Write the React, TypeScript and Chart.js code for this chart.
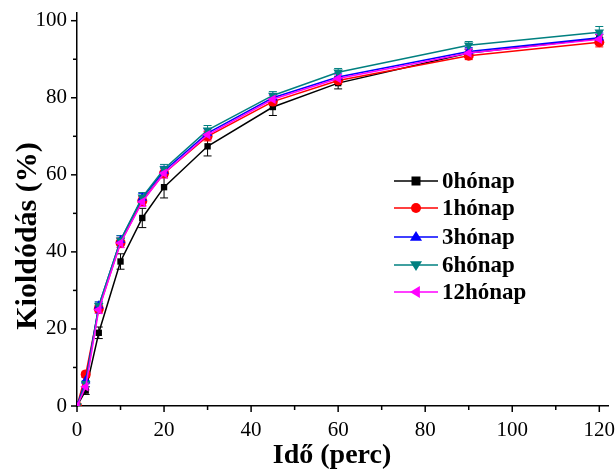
import React, { useEffect, useRef } from "react";
import { Chart, registerables } from "chart.js";

Chart.register(...registerables);

const times = [0, 2, 5, 10, 15, 20, 30, 45, 60, 90, 120];
const seriesNames = ["0hónap", "1hónap", "3hónap", "6hónap", "12hónap"];
const m0 = [0, 4, 19, 37.5, 48.8, 56.8, 67.4, 77.6, 83.8, 91.6, 95.4];
const m1 = [0, 8.2, 25.2, 42.4, 53.2, 60.4, 70.0, 79.0, 84.5, 90.9, 94.4];
const m3 = [0, 6.6, 26.0, 43.0, 54.0, 61.0, 70.8, 80.0, 85.4, 92.0, 95.6];
const m6 = [0, 5.8, 26.0, 43.0, 54.2, 61.5, 71.6, 80.6, 86.6, 93.6, 97.0];
const m12 = [0, 5.0, 25.0, 42.3, 53.0, 60.4, 70.4, 79.6, 85.0, 91.6, 95.2];
const e0 = [0, 1, 1.5, 2, 2.5, 2.8, 2.5, 2.2, 1.5, 1, 1];
const e1 = [0, 0.8, 1, 1.2, 1.2, 1.2, 1.2, 1, 1, 1, 1.2];
const e3 = [0, 0.8, 1, 1.2, 1.2, 1.2, 1.2, 1, 1, 1, 1.2];
const e6 = [0, 0.8, 1, 1.2, 1.2, 1.2, 1.2, 1, 1, 1, 1.5];
const e12 = [0, 0.8, 1, 1.2, 1.2, 1.2, 1.2, 1, 1, 1, 1.2];
const xTickLabels = [0, 20, 40, 60, 80, 100, 120];
const yTickLabels = [0, 20, 40, 60, 80, 100];
const xTitle = "Idő (perc)";
const yTitle = "Kioldódás (%)";

const values = [m0, m1, m3, m6, m12];
const errors = [e0, e1, e3, e6, e12];
const colors = ["#000000", "#ff0000", "#0000ff", "#008080", "#ff00ff"];
const pointStyles = ["rect", "circle", "triangle", "triangle", "triangle"];
const rotations = [0, 0, 0, 180, -90];
const radii = [4.5, 5, 5.5, 5.5, 5.5];

const FONT = "'Liberation Serif', 'Times New Roman', serif";

function drawMarker(ctx: CanvasRenderingContext2D, style: string, rot: number, r: number, x: number, y: number, color: string) {
  ctx.save();
  ctx.fillStyle = color;
  ctx.translate(x, y);
  ctx.rotate((rot * Math.PI) / 180);
  ctx.beginPath();
  if (style === "rect") {
    ctx.rect(-r, -r, 2 * r, 2 * r);
  } else if (style === "circle") {
    ctx.arc(0, 0, r, 0, Math.PI * 2);
  } else {
    ctx.moveTo(0, -r * 1.1);
    ctx.lineTo(r * 1.1, r * 0.7);
    ctx.lineTo(-r * 1.1, r * 0.7);
    ctx.closePath();
  }
  ctx.fill();
  ctx.restore();
}

const extrasPlugin = {
  id: "extras",
  beforeDatasetsDraw(chart: any) {
    const ctx = chart.ctx as CanvasRenderingContext2D;
    const xs = chart.scales.x;
    const ys = chart.scales.y;
    ctx.save();
    ctx.lineWidth = 1;
    for (let s = 0; s < values.length; s++) {
      ctx.strokeStyle = colors[s];
      for (let i = 0; i < times.length; i++) {
        const e = errors[s][i];
        if (!e) continue;
        const x = xs.getPixelForValue(times[i]);
        const y1 = ys.getPixelForValue(values[s][i] - e);
        const y2 = ys.getPixelForValue(values[s][i] + e);
        ctx.beginPath();
        ctx.moveTo(x, y1);
        ctx.lineTo(x, y2);
        ctx.moveTo(x - 4, y1);
        ctx.lineTo(x + 4, y1);
        ctx.moveTo(x - 4, y2);
        ctx.lineTo(x + 4, y2);
        ctx.stroke();
      }
    }
    ctx.restore();
  },
  afterDraw(chart: any) {
    const ctx = chart.ctx as CanvasRenderingContext2D;
    const xs = chart.scales.x;
    const ys = chart.scales.y;
    const area = chart.chartArea;
    ctx.save();
    ctx.strokeStyle = "#000";
    ctx.lineWidth = 1.5;
    for (let v = 0; v <= 120; v += 10) {
      const x = xs.getPixelForValue(v);
      const len = v % 20 === 0 ? 6 : 4;
      ctx.beginPath();
      ctx.moveTo(x, area.bottom);
      ctx.lineTo(x, area.bottom + len);
      ctx.stroke();
    }
    for (let v = 0; v <= 100; v += 10) {
      const y = ys.getPixelForValue(v);
      const len = v % 20 === 0 ? 6 : 4;
      ctx.beginPath();
      ctx.moveTo(area.left, y);
      ctx.lineTo(area.left - len, y);
      ctx.stroke();
    }
    // axis titles
    ctx.fillStyle = "#000";
    ctx.font = `bold 28px ${FONT}`;
    ctx.textAlign = "center";
    ctx.textBaseline = "alphabetic";
    ctx.fillText(xTitle, 332, 463);
    ctx.save();
    ctx.translate(36, 236);
    ctx.rotate(-Math.PI / 2);
    ctx.font = `bold 30px ${FONT}`;
    ctx.fillText(yTitle, 0, 0);
    ctx.restore();
    // legend
    const lx = 394;
    const rows = [181, 208, 237, 265, 292];
    ctx.font = `bold 23px ${FONT}`;
    ctx.textBaseline = "middle";
    ctx.textAlign = "left";
    for (let s = 0; s < seriesNames.length; s++) {
      const y = rows[s];
      ctx.strokeStyle = colors[s];
      ctx.lineWidth = 1.5;
      ctx.beginPath();
      ctx.moveTo(lx, y);
      ctx.lineTo(lx + 44, y);
      ctx.stroke();
      drawMarker(ctx, pointStyles[s], rotations[s], radii[s], lx + 22, y, colors[s]);
      ctx.fillStyle = "#000";
      ctx.fillText(seriesNames[s], lx + 48, y + 1);
    }
    ctx.restore();
  },
};

export default function App() {
  const ref = useRef<HTMLCanvasElement>(null);
  useEffect(() => {
    if (!ref.current) return;
    const chart = new Chart(ref.current, {
      type: "line",
      data: {
        datasets: values.map((vals, s) => ({
          label: seriesNames[s],
          data: times.map((t, i) => ({ x: t, y: vals[i] })),
          borderColor: colors[s],
          backgroundColor: colors[s],
          borderWidth: 1.5,
          pointStyle: pointStyles[s] as any,
          rotation: rotations[s],
          pointRadius: radii[s],
          pointBorderWidth: 0,
          order: values.length - s,
        })),
      },
      plugins: [extrasPlugin],
      options: {
        animation: false,
        responsive: false,
        layout: { padding: { left: 0, right: 8, top: 13, bottom: 0 } },
        plugins: { legend: { display: false }, tooltip: { enabled: false } },
        scales: {
          x: {
            type: "linear",
            min: 0,
            max: 122,
            afterBuildTicks: (scale: any) => {
              scale.ticks = xTickLabels.map((v) => ({ value: v }));
            },
            afterFit: (scale: any) => {
              scale.height = 64;
              scale.paddingLeft = 0;
              scale.paddingRight = 0;
            },
            grid: { display: false, drawTicks: false },
            border: { display: true, color: "#000", width: 1.5 },
            ticks: {
              includeBounds: false,
              autoSkip: false,
              maxRotation: 0,
              color: "#000",
              padding: 12,
              font: { family: FONT, size: 21 },
            },
          },
          y: {
            type: "linear",
            min: 0,
            max: 102,
            afterBuildTicks: (scale: any) => {
              scale.ticks = yTickLabels.map((v) => ({ value: v }));
            },
            afterFit: (scale: any) => {
              scale.width = 77;
              scale.paddingTop = 0;
              scale.paddingBottom = 0;
            },
            grid: { display: false, drawTicks: false },
            border: { display: true, color: "#000", width: 1.5 },
            ticks: {
              includeBounds: false,
              color: "#000",
              padding: 10,
              font: { family: FONT, size: 21 },
            },
          },
        },
      },
    });
    return () => chart.destroy();
  }, []);
  return (
    <div style={{ position: "fixed", left: 0, top: 0, width: 616, height: 470, background: "#fff" }}>
      <canvas ref={ref} width={616} height={470} style={{ width: 616, height: 470 }} />
    </div>
  );
}
